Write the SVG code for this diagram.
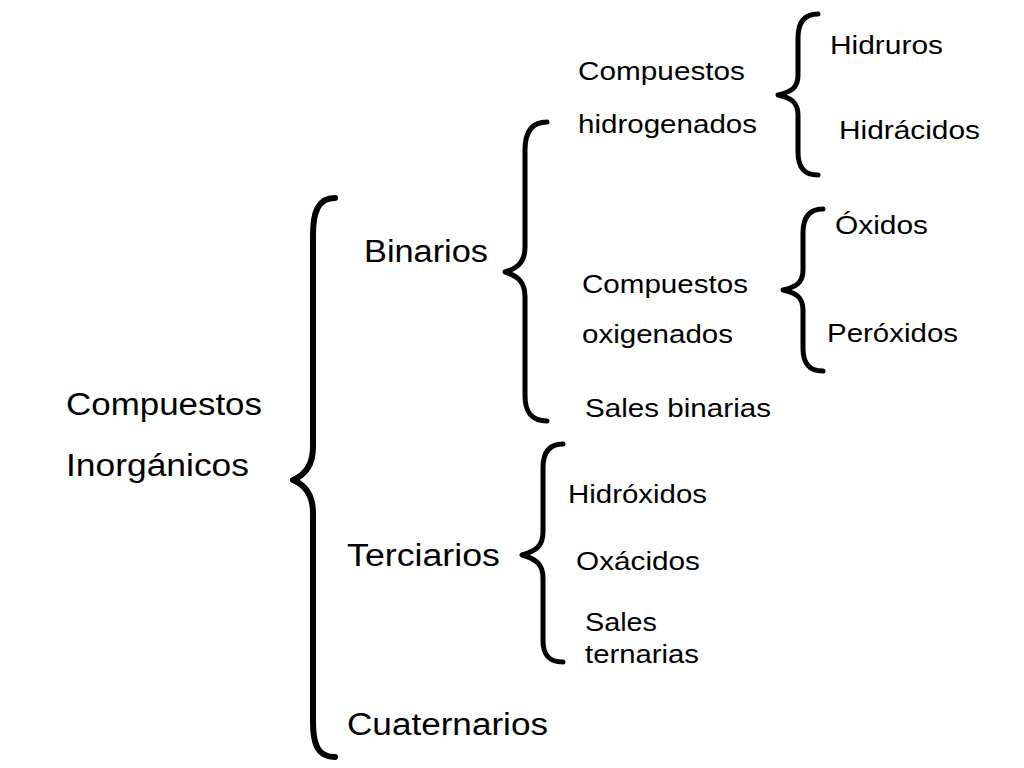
<svg xmlns="http://www.w3.org/2000/svg" width="1024" height="768" viewBox="0 0 1024 768">
<style>
.big{font-family:"Liberation Sans",Arial,sans-serif;font-size:31px;fill:#000}
.sm{font-family:"Liberation Sans",Arial,sans-serif;font-size:25px;fill:#000}
.br{fill:none;stroke:#000;stroke-width:6;stroke-linecap:round;stroke-linejoin:round}
.brs{fill:none;stroke:#000;stroke-width:5;stroke-linecap:round;stroke-linejoin:round}
</style>
<rect width="1024" height="768" fill="#fff"/>
<g id="connectors">
<path class="br" d="M335,198 C318,198 313,212 313,235 L313,447 C313,465 305,475 293,480 C305,485 313,495 313,513 L313,722 C313,745 318,757 335,757"/>
<path class="brs" d="M547,122 C531,122 525,133 525,150 L525,247 C525,262 518,268 505,272 C518,276 525,282 525,297 L525,395 C525,412 531,421 547,421"/>
<path class="brs" d="M818,14 C803,14 798,24 798,38 L798,75 C798,88 791,92 778,95 C791,98 798,102 798,115 L798,152 C798,166 803,175 818,175"/>
<path class="brs" d="M823,209 C808,209 803,219 803,233 L803,270 C803,283 796,287 783,290 C796,293 803,297 803,310 L803,348 C803,362 808,371 823,371"/>
<path class="brs" d="M563,444 C548,444 543,454 543,468 L543,532 C543,546 536,551 522,555 C536,559 543,564 543,578 L543,640 C543,654 548,662 563,662"/>
</g>
<g id="root"><text class="big" x="66" y="415" textLength="196" lengthAdjust="spacingAndGlyphs">Compuestos</text><text class="big" x="66" y="476" textLength="183" lengthAdjust="spacingAndGlyphs">Inorgánicos</text></g>
<g id="binarios"><text class="big" x="364" y="262" textLength="124" lengthAdjust="spacingAndGlyphs">Binarios</text></g>
<g id="terciarios"><text class="big" x="347" y="566" textLength="153" lengthAdjust="spacingAndGlyphs">Terciarios</text></g>
<g id="cuaternarios"><text class="big" x="347" y="735" textLength="201" lengthAdjust="spacingAndGlyphs">Cuaternarios</text></g>
<g id="hidrogenados"><text class="sm" x="578" y="80" textLength="167" lengthAdjust="spacingAndGlyphs">Compuestos</text><text class="sm" x="578" y="133" textLength="179" lengthAdjust="spacingAndGlyphs">hidrogenados</text></g>
<g id="hidruros"><text class="sm" x="830" y="54" textLength="113" lengthAdjust="spacingAndGlyphs">Hidruros</text></g>
<g id="hidracidos"><text class="sm" x="839" y="139" textLength="141" lengthAdjust="spacingAndGlyphs">Hidrácidos</text></g>
<g id="oxigenados"><text class="sm" x="582" y="293" textLength="166" lengthAdjust="spacingAndGlyphs">Compuestos</text><text class="sm" x="582" y="343" textLength="151" lengthAdjust="spacingAndGlyphs">oxigenados</text></g>
<g id="oxidos"><text class="sm" x="835" y="234" textLength="93" lengthAdjust="spacingAndGlyphs">Óxidos</text></g>
<g id="peroxidos"><text class="sm" x="827" y="342" textLength="131" lengthAdjust="spacingAndGlyphs">Peróxidos</text></g>
<g id="sales-binarias"><text class="sm" x="585" y="417" textLength="186" lengthAdjust="spacingAndGlyphs">Sales binarias</text></g>
<g id="hidroxidos"><text class="sm" x="568" y="503" textLength="139" lengthAdjust="spacingAndGlyphs">Hidróxidos</text></g>
<g id="oxacidos"><text class="sm" x="576" y="570" textLength="124" lengthAdjust="spacingAndGlyphs">Oxácidos</text></g>
<g id="sales-ternarias"><text class="sm" x="585" y="631" textLength="72" lengthAdjust="spacingAndGlyphs">Sales</text><text class="sm" x="585" y="663" textLength="114" lengthAdjust="spacingAndGlyphs">ternarias</text></g>
</svg>
